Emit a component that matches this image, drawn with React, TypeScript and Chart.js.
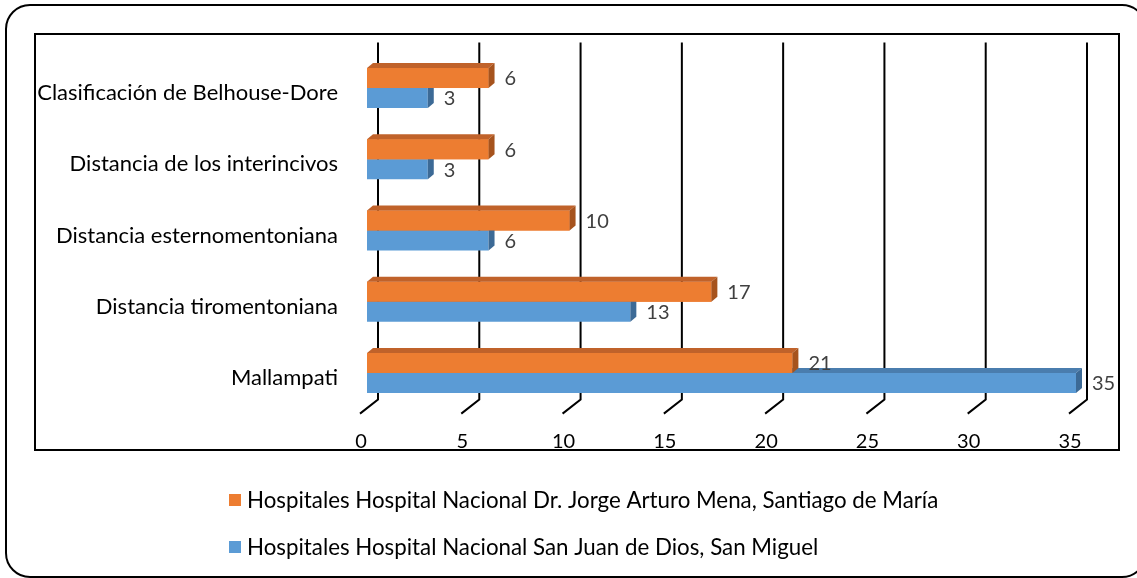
import { useEffect, useRef } from 'react';
import { Chart, registerables } from 'chart.js';

Chart.register(...registerables);

// ---- data ----
const categories = [
  'Clasificación de Belhouse-Dore',
  'Distancia de los interincivos',
  'Distancia esternomentoniana',
  'Distancia tiromentoniana',
  'Mallampati',
];
const seriesNames = [
  'Hospitales Hospital Nacional Dr. Jorge Arturo Mena, Santiago de María',
  'Hospitales Hospital Nacional San Juan de Dios, San Miguel',
];
const santiagoValues = [6, 6, 10, 17, 21];
const sanMiguelValues = [3, 3, 6, 13, 35];
const xMin = 0;
const xMax = 35;
const xStep = 5;

// ---- styles ----
const FONT = 'Lato, "Open Sans", sans-serif';
const FRONT = ['#ED7D31', '#5B9BD5'];
const TOPC = ['#C0622A', '#4A7DAE'];
const SIDE = ['#A6531D', '#3C6A96'];
const DX = 6;
const DY = 5;

function faces(ctx: CanvasRenderingContext2D, el: any, i: number) {
  const p = el.getProps(['x', 'y', 'base', 'height'], true);
  const top = p.y - p.height / 2;
  const bottom = p.y + p.height / 2;
  ctx.fillStyle = TOPC[i];
  ctx.beginPath();
  ctx.moveTo(p.base, top);
  ctx.lineTo(p.base + DX, top - DY);
  ctx.lineTo(p.x + DX, top - DY);
  ctx.lineTo(p.x, top);
  ctx.closePath();
  ctx.fill();
  ctx.fillStyle = SIDE[i];
  ctx.beginPath();
  ctx.moveTo(p.x, top);
  ctx.lineTo(p.x + DX, top - DY);
  ctx.lineTo(p.x + DX, bottom - DY);
  ctx.lineTo(p.x, bottom);
  ctx.closePath();
  ctx.fill();
}

const decor = {
  id: 'decor',
  beforeDatasetsDraw(chart: any) {
    const { ctx, chartArea, scales } = chart;
    const x = scales.x;
    ctx.save();
    ctx.strokeStyle = '#000';
    ctx.lineWidth = 2;
    const top = chartArea.top - 10;
    const floor = chartArea.bottom - 9;
    for (const t of x.ticks) {
      const px = x.getPixelForValue(t.value) + 11;
      ctx.beginPath();
      ctx.moveTo(px, top);
      ctx.lineTo(px, floor);
      ctx.lineTo(px - 18, floor + 14);
      ctx.stroke();
    }
    ctx.restore();
  },
  afterDatasetsDraw(chart: any) {
    const { ctx } = chart;
    const m0 = chart.getDatasetMeta(0);
    const m1 = chart.getDatasetMeta(1);
    ctx.save();
    for (let i = 0; i < categories.length; i++) {
      faces(ctx, m1.data[i], 1);
      const b = m0.data[i].getProps(['x', 'y', 'base', 'height'], true);
      ctx.fillStyle = FRONT[0];
      ctx.fillRect(b.base, b.y - b.height / 2, b.x - b.base, b.height);
      faces(ctx, m0.data[i], 0);
    }
    ctx.font = `20px ${FONT}`;
    ctx.fillStyle = '#404040';
    ctx.textBaseline = 'middle';
    ctx.textAlign = 'left';
    [m0, m1].forEach((m: any, di: number) => {
      const vals = di === 0 ? santiagoValues : sanMiguelValues;
      m.data.forEach((el: any, i: number) => {
        const p = el.getProps(['x', 'y'], true);
        ctx.fillText(String(vals[i]), p.x + 16, p.y + 1);
      });
    });
    ctx.restore();
  },
  afterDraw(chart: any) {
    const { ctx } = chart;
    ctx.save();
    ctx.strokeStyle = '#000';
    ctx.lineWidth = 2;
    ctx.strokeRect(35, 34, 1084, 416);
    ctx.beginPath();
    ctx.roundRect(6, 5, 1140, 572, 24);
    ctx.stroke();
    // legend
    ctx.font = `22.3px ${FONT}`;
    ctx.textBaseline = 'middle';
    ctx.textAlign = 'left';
    const rows = [500, 547];
    seriesNames.forEach((name, i) => {
      ctx.fillStyle = FRONT[i];
      ctx.fillRect(229, rows[i] - 6, 12, 12);
      ctx.fillStyle = '#000';
      ctx.fillText(name, 247, rows[i] + 1);
    });
    ctx.restore();
  },
};

export default function App() {
  const ref = useRef<HTMLCanvasElement>(null);
  useEffect(() => {
    const chart = new Chart(ref.current!, {
      type: 'bar',
      data: {
        labels: categories,
        datasets: [
          { label: seriesNames[0], data: santiagoValues, backgroundColor: FRONT[0] },
          { label: seriesNames[1], data: sanMiguelValues, backgroundColor: FRONT[1] },
        ],
      },
      options: {
        indexAxis: 'y',
        responsive: false,
        animation: false,
        categoryPercentage: 0.5614,
        barPercentage: 1,
        layout: { padding: { left: 0, right: 61, top: 52.4, bottom: 129.4 } },
        plugins: { legend: { display: false }, tooltip: { enabled: false } },
        scales: {
          x: {
            min: xMin,
            max: xMax,
            grid: { display: false, drawTicks: false },
            border: { display: false },
            ticks: {
              stepSize: xStep,
              color: '#000',
              font: { family: FONT, size: 20 },
              padding: 21,
              labelOffset: -6,
              maxRotation: 0,
            },
            afterFit: (s: any) => { s.height = 40; },
          },
          y: {
            grid: { display: false, drawTicks: false },
            border: { display: false },
            ticks: {
              color: '#000',
              font: { family: FONT, size: 22 },
              padding: 29,
              labelOffset: 5,
            },
            afterFit: (s: any) => { s.width = 367; },
          },
        },
      } as any,
      plugins: [decor],
    });
    return () => chart.destroy();
  }, []);
  return (
    <div style={{ position: 'fixed', left: 0, top: 0, background: '#fff' }}>
      <canvas ref={ref} width={1137} height={578} />
    </div>
  );
}
